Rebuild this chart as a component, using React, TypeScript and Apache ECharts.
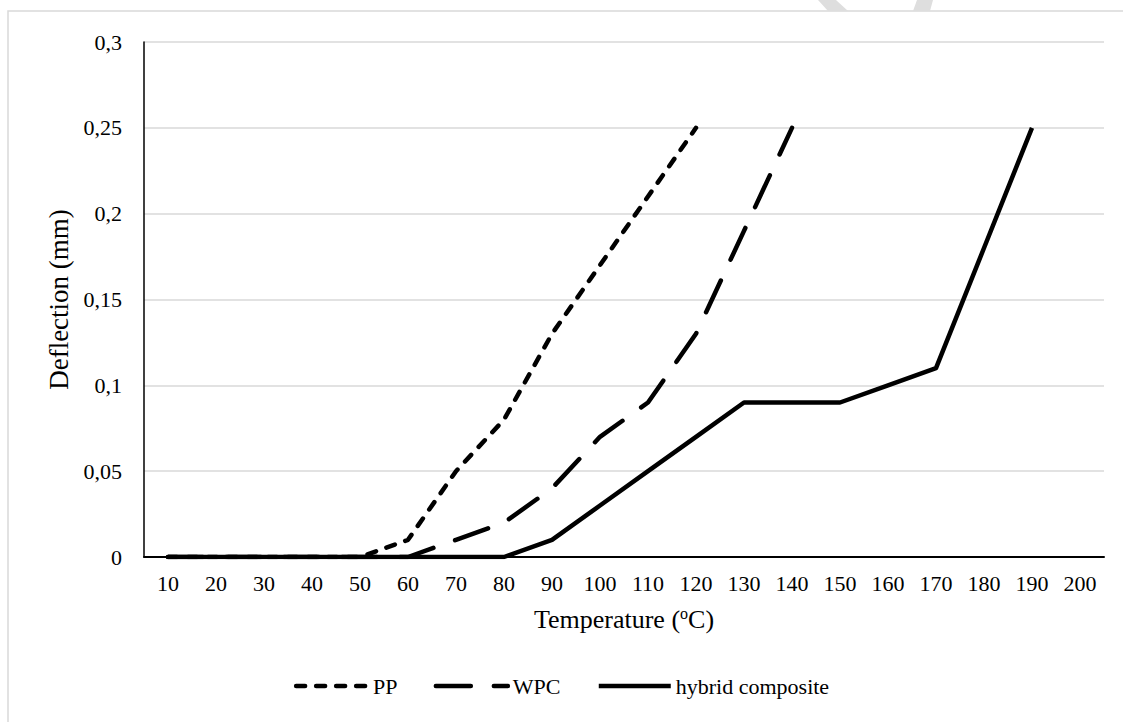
import React, { useEffect, useRef } from "react";
import * as echarts from "echarts";

const categories = ["10","20","30","40","50","60","70","80","90","100","110","120","130","140","150","160","170","180","190","200"];
const ppValues = [0, 0, 0, 0, 0, 0.01, 0.05, 0.08, 0.13, 0.17, 0.21, 0.25, null, null, null, null, null, null, null, null];
const wpcValues = [0, 0, 0, 0, 0, 0, 0.01, 0.02, 0.04, 0.07, 0.09, 0.13, 0.19, 0.25, null, null, null, null, null, null];
const hybridValues = [0, 0, 0, 0, 0, 0, 0, 0, 0.01, 0.03, 0.05, 0.07, 0.09, 0.09, 0.09, 0.1, 0.11, 0.18, 0.25, null];
const seriesNames = ["PP", "WPC", "hybrid composite"];

const FONT = "Times New Roman";

export default function App() {
  const ref = useRef<HTMLDivElement>(null);
  useEffect(() => {
    if (!ref.current) return;
    const chart = echarts.init(ref.current, undefined, { renderer: "svg" });
    const lineW = 4.5;
    chart.setOption({
      animation: false,
      backgroundColor: "#ffffff",
      textStyle: { fontFamily: FONT, color: "#000" },
      graphic: [
        { type: "rect", silent: true, shape: { x: 8, y: 11, width: 1300, height: 900 }, style: { fill: "none", stroke: "#d9d9d9", lineWidth: 1.5 } },
        { type: "polygon", silent: true, shape: { points: [[818, 0], [836, 0], [848, 11], [828, 11]] }, style: { fill: "#dedede" } },
        { type: "polygon", silent: true, shape: { points: [[917, 0], [933, 0], [930, 11], [913, 11]] }, style: { fill: "#dedede" } },
      ],
      grid: { left: 144, right: 19, top: 42, bottom: 165, containLabel: false },
      legend: {
        bottom: 20,
        left: "center",
        itemWidth: 72,
        itemHeight: 8,
        itemGap: 36,
        itemStyle: { color: "transparent", borderWidth: 0, opacity: 0 },
        lineStyle: { width: lineW },
        textStyle: { fontFamily: FONT, fontSize: 22, color: "#000" },
        data: seriesNames,
      },
      xAxis: {
        type: "category",
        data: categories,
        boundaryGap: true,
        axisLine: { lineStyle: { color: "#000", width: 2 } },
        axisTick: { show: false },
        axisLabel: { fontFamily: FONT, fontSize: 22, color: "#000", margin: 15, interval: 0 },
        splitLine: { show: false },
        name: "Temperature ({s|o}C)",
        nameLocation: "middle",
        nameGap: 62,
        nameTextStyle: {
          fontFamily: FONT, fontSize: 26, color: "#000", verticalAlign: "middle",
          rich: { s: { fontFamily: FONT, fontSize: 16, color: "#000", padding: [0, 0, 11, 0] } },
        },
      },
      yAxis: {
        type: "value",
        min: 0,
        max: 0.3,
        interval: 0.05,
        axisLine: { show: true, lineStyle: { color: "#000", width: 1.5 } },
        axisTick: { show: false },
        axisLabel: {
          fontFamily: FONT, fontSize: 22, color: "#000", margin: 22,
          formatter: (v: number) => String(+v.toFixed(2)).replace(".", ","),
        },
        splitLine: { lineStyle: { color: "#d9d9d9", width: 1.5 } },
        name: "Deflection (mm)",
        nameLocation: "middle",
        nameGap: 70,
        nameRotate: 90,
        nameTextStyle: { fontFamily: FONT, fontSize: 27, color: "#000" },
      },
      series: [
        {
          name: seriesNames[0], type: "line", data: ppValues, symbol: "none", connectNulls: false,
          lineStyle: { color: "#000", width: lineW, type: [9, 11], cap: "round", join: "round" },
          itemStyle: { color: "#000" },
        },
        {
          name: seriesNames[1], type: "line", data: wpcValues, symbol: "none",
          lineStyle: { color: "#000", width: lineW, type: [35, 23], cap: "round", join: "round" },
          itemStyle: { color: "#000" },
        },
        {
          name: seriesNames[2], type: "line", data: hybridValues, symbol: "none",
          lineStyle: { color: "#000", width: lineW, type: "solid", join: "round" },
          itemStyle: { color: "#000" },
        },
      ],
    });
    return () => chart.dispose();
  }, []);
  return <div ref={ref} style={{ position: "fixed", left: 0, top: 0, width: 1123, height: 722 }} />;
}
